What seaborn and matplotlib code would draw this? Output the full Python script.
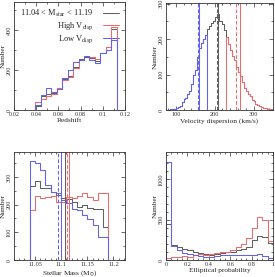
import numpy as np
import pandas as pd
import matplotlib
matplotlib.use("Agg")
import matplotlib.pyplot as plt
import seaborn as sns
from matplotlib.lines import Line2D
from matplotlib.ticker import MultipleLocator

sns.set_style("ticks")
plt.rcParams['font.family'] = ['Liberation Serif', 'DejaVu Serif']
plt.rcParams['mathtext.fontset'] = 'stix'

C_ALL = '#606060'
C_HIGH = '#f06a6a'
C_LOW = '#6262f0'

# ---------------- data ----------------
z_edges = np.linspace(0.039, 0.1125, 16)
z_all  = [20, 70, 78, 87, 108, 155, 170, 217, 253, 267, 258, 247, 287, 317, 403]
z_high = [42, 53, 70, 78, 108, 150, 167, 208, 250, 270, 263, 253, 287, 317, 413]
z_low  = [25, 75, 108, 92, 103, 158, 200, 242, 250, 270, 250, 233, 287, 300, 350]

v_edges = np.arange(75, 355, 5)
v_all = [0, 1, 2, 2, 4, 6, 8, 12, 22, 30, 34, 45, 55, 72, 100, 112, 150, 175, 188,
         200, 212, 228, 236, 246, 250, 262, 272, 252, 250, 242, 225, 205, 185, 168,
         152, 140, 122, 108, 95, 78, 62, 55, 46, 40, 28, 24, 18, 14, 10, 8, 7, 5, 4, 3, 2]
v_low_cut = 178
v_high_cut = 230
v_lines = {'low': (158, 159), 'all': (207, 208), 'high': (255, 264)}  # (median, mean)

m_edges = np.linspace(11.04, 11.19, 16)
m_all  = [267, 285, 259, 259, 247, 235, 223, 219, 211, 193, 199, 187, 183, 183, 118]
m_high = [181, 231, 223, 226, 231, 211, 211, 229, 223, 231, 243, 229, 217, 243, 243]
m_low  = [358, 349, 325, 271, 247, 243, 217, 205, 183, 181, 163, 147, 127, 84, 84]
m_lines = {'low': (11.094, 11.100), 'all': (None, 11.107), 'high': (11.112, 11.115)}

p_edges = np.linspace(0, 1, 21)
p_all  = [444, 185, 165, 132, 123, 103, 82, 74, 62, 74, 82, 95, 103, 123, 132, 165, 247, 296, 280, 206]
p_high = [21, 33, 41, 49, 41, 62, 74, 62, 74, 82, 103, 103, 123, 165, 198, 267, 391, 535, 502, 239]
p_low  = [1222, 173, 123, 90, 74, 62, 49, 41, 41, 55, 60, 60, 60, 60, 60, 60, 60, 80, 50, 30]

LW = 0.75
DASH = (0, (3.5, 2))


def pad(edges, counts):
    edges = np.asarray(edges, float)
    w = edges[1] - edges[0]
    e = np.concatenate([[edges[0] - w], edges, [edges[-1] + w]])
    c = np.concatenate([[0], np.asarray(counts, float), [0]])
    centers = 0.5 * (e[:-1] + e[1:])
    return e, centers, c


def hist(ax, edges, counts, color):
    e, cen, c = pad(edges, counts)
    df = pd.DataFrame({'x': cen, 'w': c})
    sns.histplot(data=df, x='x', weights='w', bins=list(e), element='step',
                 fill=False, color=color, linewidth=LW, ax=ax)


def style(ax, xlabel, xmaj, xmin, ymaj, ymin):
    ax.set_xlabel(xlabel, fontsize=5.3, labelpad=1)
    ax.set_ylabel('Number', fontsize=5.3, labelpad=0.5)
    ax.xaxis.set_major_locator(MultipleLocator(xmaj))
    ax.xaxis.set_minor_locator(MultipleLocator(xmin))
    ax.yaxis.set_major_locator(MultipleLocator(ymaj))
    ax.yaxis.set_minor_locator(MultipleLocator(ymin))
    ax.tick_params(which='both', direction='in', top=True, right=True,
                   labelsize=4.5, pad=1.5, width=0.5, colors='#333333')
    ax.tick_params(which='major', length=3)
    ax.tick_params(which='minor', length=1.5)
    plt.setp(ax.get_yticklabels(), rotation=90, va='center')
    for s in ax.spines.values():
        s.set_linewidth(0.6)
        s.set_color('#333333')


fig = plt.figure(figsize=(2.75, 2.77), dpi=100)
W, H = 275, 277
ax1 = fig.add_axes([14 / W, (H - 110) / H, 111 / W, 108 / H])
ax2 = fig.add_axes([166 / W, (H - 110) / H, 107 / W, 107 / H])
ax3 = fig.add_axes([14 / W, (H - 260) / H, 111 / W, 108 / H])
ax4 = fig.add_axes([166 / W, (H - 260) / H, 107 / W, 108 / H])

# Panel 1: redshift
hist(ax1, z_edges, z_all, C_ALL)
hist(ax1, z_edges, z_high, C_HIGH)
hist(ax1, z_edges, z_low, C_LOW)
ax1.set_xlim(0.02, 0.12)
ax1.set_ylim(0, 540)
style(ax1, 'Redshift', 0.02, 0.01, 200, 100)
ax1.xaxis.set_major_formatter(plt.FuncFormatter(
    lambda v, p: '0.1' if abs(v - 0.1) < 1e-9 else f'{v:.2f}'))
handles = [Line2D([], [], color=C_ALL, lw=LW), Line2D([], [], color=C_HIGH, lw=LW),
           Line2D([], [], color=C_LOW, lw=LW)]
labels = [r'11.04 < M$_{\rm star}$ < 11.19', r'High V$_{\rm disp}$', r'Low V$_{\rm disp}$']
ax1.legend(handles, labels, loc='upper left', markerfirst=False, frameon=False,
           fontsize=6, handlelength=2.0, handletextpad=1.1, labelspacing=0.15,
           borderaxespad=0.3, borderpad=0.4)

# Panel 2: velocity dispersion
v_all = np.asarray(v_all)
v_cent = 0.5 * (v_edges[:-1] + v_edges[1:])
v_low = np.where(v_cent < v_low_cut, v_all, 0)
v_high = np.where(v_cent > v_high_cut, v_all, 0)
hist(ax2, v_edges, v_all, C_ALL)
hist(ax2, v_edges, v_high, C_HIGH)
hist(ax2, v_edges, v_low, C_LOW)
for key, col in [('low', C_LOW), ('all', C_ALL), ('high', C_HIGH)]:
    med, mean = v_lines[key]
    ax2.axvline(med, color=col, lw=LW, ls=DASH)
    ax2.axvline(mean, color=col, lw=LW)
ax2.set_xlim(75, 350)
ax2.set_ylim(0, 302)
style(ax2, 'Velocity dispersion (km/s)', 100, 20, 100, 50)

# Panel 3: stellar mass
hist(ax3, m_edges, m_all, C_ALL)
hist(ax3, m_edges, m_high, C_HIGH)
hist(ax3, m_edges, m_low, C_LOW)
for key, col in [('low', C_LOW), ('all', C_ALL), ('high', C_HIGH)]:
    med, mean = m_lines[key]
    if med is not None:
        ax3.axvline(med, color=col, lw=LW, ls=DASH)
    ax3.axvline(mean, color=col, lw=LW)
ax3.set_xlim(11.01, 11.222)
ax3.set_ylim(0, 390)
style(ax3, r'Stellar Mass (M$_{\odot}$)', 0.05, 0.01, 100, 50)
ax3.xaxis.set_major_formatter(plt.FuncFormatter(
    lambda v, p: f'{v:.2f}'.rstrip('0')))

# Panel 4: elliptical probability
hist(ax4, p_edges, p_all, C_ALL)
hist(ax4, p_edges, p_high, C_HIGH)
hist(ax4, p_edges, p_low, C_LOW)
ax4.set_xlim(0, 1)
ax4.set_ylim(0, 1340)
style(ax4, 'Elliptical probability', 0.2, 0.05, 500, 100)
ax4.xaxis.set_major_formatter(plt.FuncFormatter(
    lambda v, p: '0' if abs(v) < 1e-9 else ('1' if abs(v - 1) < 1e-9 else f'{v:.1f}')))

fig.savefig('out.png', dpi=100)
